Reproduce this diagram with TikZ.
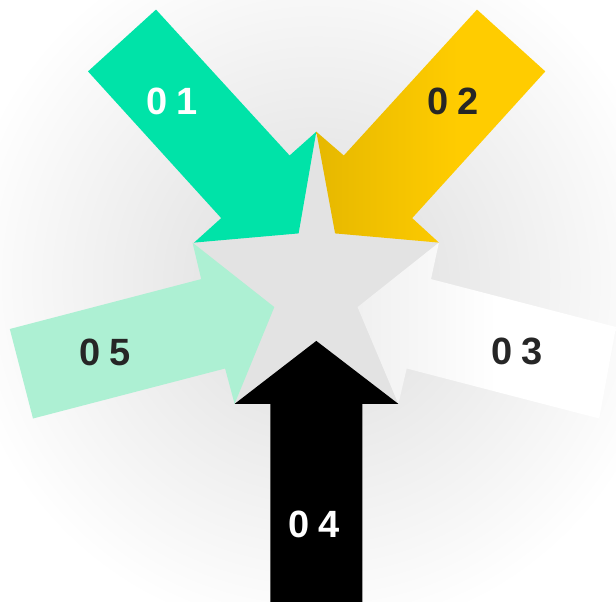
\documentclass[tikz,border=0pt]{standalone}
\usepackage{fontspec}
\setmainfont{Liberation Sans}
\definecolor{mint}{HTML}{00E3A8}
\definecolor{palemint}{HTML}{ADF0D3}
\definecolor{yelA}{HTML}{E6B800}
\definecolor{yelB}{HTML}{FFCC00}
\definecolor{whA}{HTML}{F0F0F0}
\definecolor{labeldark}{HTML}{262626}
\definecolor{stargray}{HTML}{E3E3E3}
\pgfdeclarehorizontalshading{yelshade}{100bp}{color(0bp)=(yelA); color(25bp)=(yelA); color(56bp)=(yelB); color(100bp)=(yelB)}
\pgfdeclarehorizontalshading{whshade}{100bp}{color(0bp)=(whA); color(25bp)=(whA); color(52bp)=(white); color(100bp)=(white)}
\begin{document}
\begin{tikzpicture}[x=1pt,y=-1pt,
  lbl/.style={font=\fontsize{38}{38}\selectfont\bfseries\addfontfeature{LetterSpace=22}, inner sep=0pt, anchor=center},
  darklbl/.style={lbl, text=labeldark},
  whitelbl/.style={lbl, text=white}]
\useasboundingbox (0,0) rectangle (616,602);
% background glow
\fill[white] (0,0) rectangle (616,602);
\begin{scope}
\clip (0,0) rectangle (616,602);
\shade[inner color=black!14, outer color=white] (316,280) circle (360);
\end{scope}
% star
\fill[stargray] (316.3,131.7) -- (335.1,233.4) -- (438.9,242.6) -- (357.5,307.1) -- (398.4,403.9)
  -- (316.3,340.9) -- (234.6,403.9) -- (274.3,307.1) -- (192.5,242.6) -- (298.6,233.4) -- cycle;
% arrow 01
\fill[mint] (88,71.4) -- (156,9.6) -- (289.6,155.5) -- (316.3,131.7) -- (298.6,233.4)
  -- (194.1,242.6) -- (221.2,218.1) -- cycle;
% arrow 02
\shade[shading=yelshade] (477,9.6) -- (545.3,71.4) -- (412.2,218.1) -- (438.9,242.6)
  -- (335.1,233.4) -- (316.3,131.7) -- (343.8,155.5) -- cycle;
% arrow 03
\shade[shading=whshade] (438.9,242.6) -- (431,279.1) -- (616,327) -- (599.2,418.5)
  -- (406.7,368.5) -- (398.4,403.9) -- (357.5,307.1) -- cycle;
% arrow 04
\fill[black] (234.6,403.9) -- (316.3,340.9) -- (398.4,403.9) -- (362.3,403.9) -- (362.3,602)
  -- (270.3,602) -- (270.3,403.9) -- cycle;
% arrow 05
\fill[palemint] (192.5,242.6) -- (274.3,307.1) -- (234.6,403.9) -- (225.1,368.5) -- (33,418.5)
  -- (9.8,329) -- (201.2,279.1) -- cycle;
% labels
\node[whitelbl] (l1) at (172,101.7) {01};
\node[darklbl] (l2) at (453,101.7) {02};
\node[darklbl] (l3) at (517,351.3) {03};
\node[whitelbl] (l4) at (314,524.8) {04};
\node[darklbl] (l5) at (105,352.4) {05};
\end{tikzpicture}
\end{document}
